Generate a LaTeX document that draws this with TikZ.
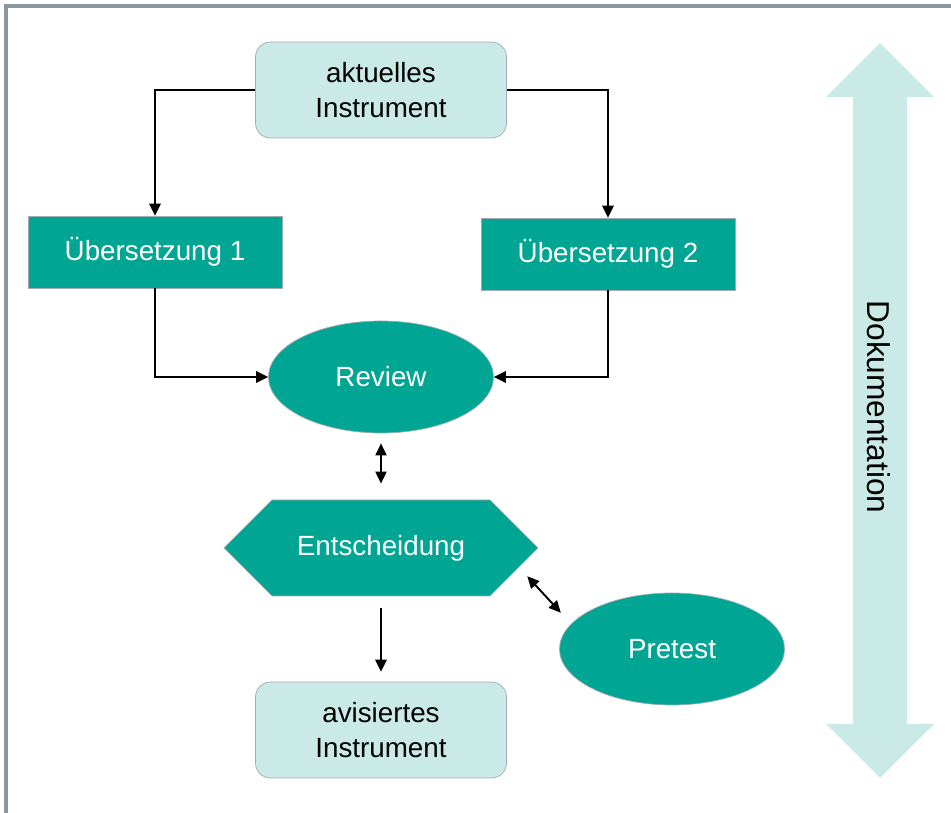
\documentclass[tikz,border=0pt]{standalone}
\usepackage{fontspec}
\setmainfont{Liberation Sans}
\usetikzlibrary{shapes.geometric,shapes.symbols,arrows.meta}
\definecolor{petrol}{HTML}{00A693}
\definecolor{hellpetrol}{HTML}{C9EAE6}
\definecolor{rahmen}{HTML}{8C969F}

\begin{document}
\begin{tikzpicture}[
        every node/.style={font=\fontsize{15.8}{19.6}\selectfont},
        instrument/.style={draw=rahmen!80, fill=hellpetrol, rounded corners=0.3cm, minimum width=5.02cm, minimum height=1.92cm, align=center, inner sep=0pt},
        uebers/.style={draw=rahmen!80, fill=petrol, text=white, minimum width=5.08cm, minimum height=1.44cm, inner sep=0pt},
        oval/.style={ellipse, draw=rahmen!80, fill=petrol, text=white, minimum width=4.5cm, minimum height=2.24cm, inner sep=0pt},
        pfeil/.style={line width=1.1pt, -{Triangle[length=0.24cm,width=0.23cm]}},
        doppelpfeil/.style={line width=1.1pt, {Triangle[length=0.24cm,width=0.22cm]}-{Triangle[length=0.24cm,width=0.22cm]}}
    ]
        \useasboundingbox (0,0) rectangle (19.02,16.26);
        \draw[rahmen, line width=1.9pt] (0.12,0) -- (0.12,16.14) -- (19.02,16.14);

        % Dokumentation
        \fill[hellpetrol] (17.60,15.40) -- (18.68,14.32) -- (18.14,14.32) -- (18.14,1.78) -- (18.68,1.78)
            -- (17.60,0.70) -- (16.52,1.78) -- (17.06,1.78) -- (17.06,14.32) -- (16.52,14.32) -- cycle;
        \node[rotate=-90, anchor=base, font=\fontsize{18}{22}\selectfont] (doku) at (17.34,8.12) {Dokumentation};

        \node[instrument] (aktuell) at (7.62,14.46) {aktuelles\\Instrument};
        \node[uebers] (ueb1) at (3.10,11.22) {Übersetzung 1};
        \node[uebers] (ueb2) at (12.16,11.18) {Übersetzung 2};
        \node[oval] (review) at (7.62,8.72) {Review};
        \node[signal, signal to=west and east, signal pointer angle=90, draw=rahmen!80, fill=petrol, text=white,
            minimum width=6.28cm, minimum height=1.92cm, inner sep=0pt] (entsch) at (7.62,5.30) {Entscheidung};
        \node[oval] (pretest) at (13.44,3.28) {Pretest};
        \node[instrument] (avisiert) at (7.62,1.66) {avisiertes\\Instrument};

        \draw[pfeil] (aktuell.west) -| (ueb1.north);
        \draw[pfeil] (aktuell.east) -| (ueb2.north);
        \draw[pfeil] (ueb1.south) |- (review.west);
        \draw[pfeil] (ueb2.south) |- (review.east);
        \draw[doppelpfeil, shorten <=0.2cm, shorten >=0.32cm] (review.south) -- (entsch.north);
        \draw[doppelpfeil, shorten <=0.24cm, shorten >=0.3cm] (entsch.-8) -- (pretest.166);
        \draw[pfeil, shorten <=0.24cm, shorten >=0.2cm] (entsch.south) -- (avisiert.north);
    \end{tikzpicture}
\end{document}
